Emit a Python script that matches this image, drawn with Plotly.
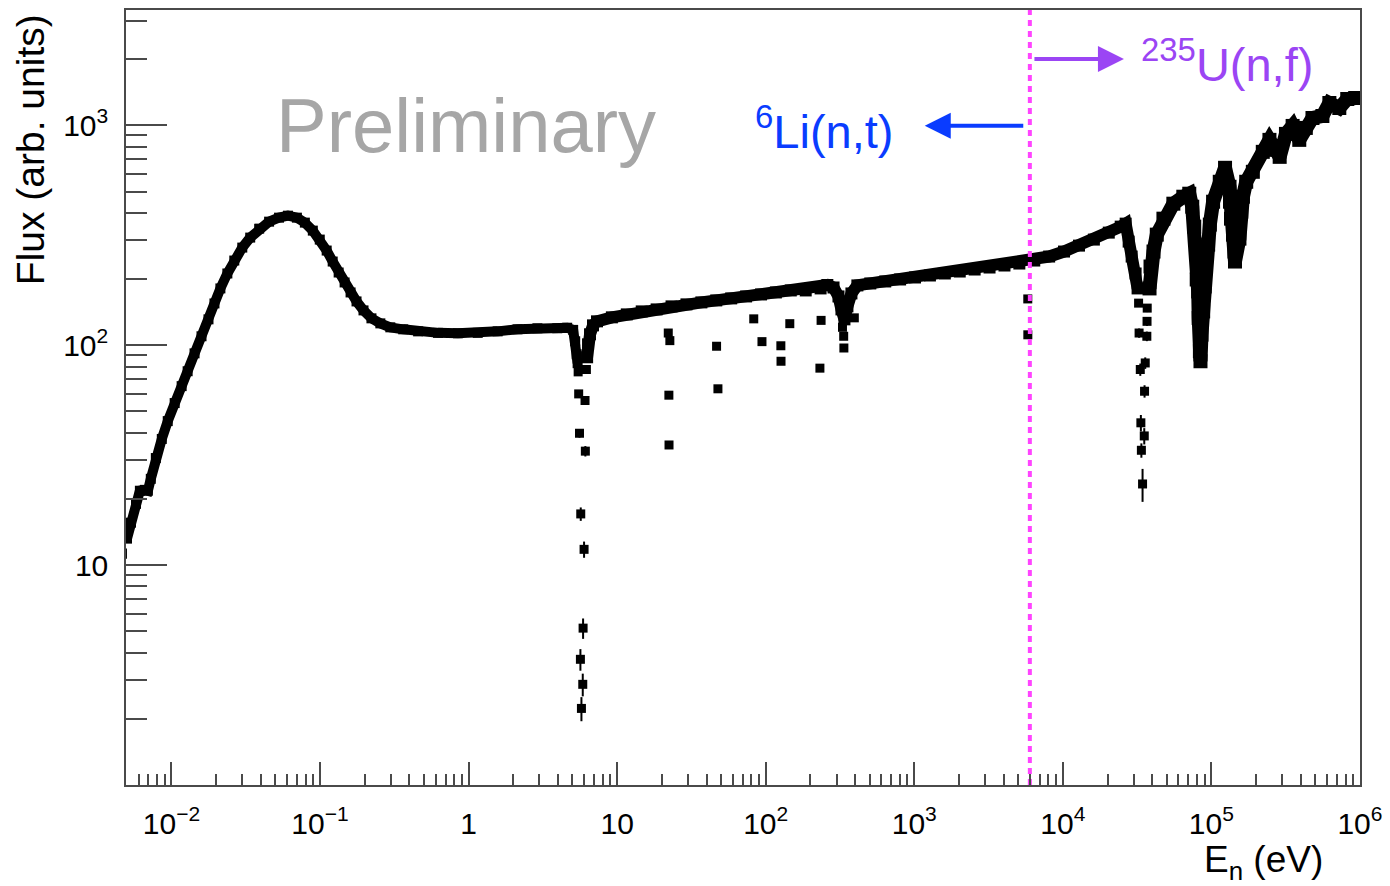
import plotly.graph_objects as go

# ---------------- data: neutron flux vs energy ----------------
# thermal peak up to the left flank of the 5.9 eV dip
thermal_energy = [
    0.00502, 0.00534, 0.00577, 0.00613, 0.00662, 0.00694, 0.00726, 0.00785, 0.00861, 0.00944,
    0.01051, 0.01171, 0.01285, 0.01430, 0.01593, 0.01775, 0.01947, 0.02135, 0.02378, 0.02648,
    0.02997, 0.03389, 0.03894, 0.04542, 0.05298, 0.06084, 0.06990, 0.07907, 0.08944, 0.09961,
    0.1109, 0.1217, 0.1335, 0.1464, 0.1606, 0.1761, 0.1962, 0.2219, 0.2548, 0.2973,
    0.3632, 0.4575, 0.6226, 0.8474, 1.153, 1.569, 2.135, 2.906, 3.954, 4.612,
    5.058, 5.22, 5.34, 5.42,
]
thermal_flux = [
    13.2, 15.6, 19.0, 21.8, 22.0, 21.8, 24.7, 30.7, 37.5, 45.2,
    54.6, 65.2, 76.2, 91.9, 109.9, 131.2, 155.0, 181.4, 212.1, 242.9,
    278.2, 308.9, 339.3, 365.0, 380.6, 388.6, 380.6, 361.3, 332.3, 302.5,
    269.7, 240.4, 214.3, 193.1, 173.9, 158.3, 144.1, 132.6, 125.8, 120.7,
    118.2, 115.7, 113.9, 113.4, 113.9, 115.7, 118.2, 119.5, 119.5, 120.2,
    117.5, 104.3, 91.0, 82.9,
]

# epithermal region up to the left flank of the 30 keV dip
epithermal_energy = [
    6.28, 6.37, 6.57, 6.88, 7.32, 9.22, 11.62, 14.64, 18.45, 23.24,
    29.29, 36.90, 46.48, 58.56, 73.80, 92.97, 117.1, 147.5, 185.9, 234.2,
    260.0, 286.2, 309.0, 323.6, 338.9, 354.9, 377.6, 414.1, 505.9, 637.7,
    803.1, 1012, 1275, 1606, 2024, 2550, 3212, 4047, 5098, 6424,
    8093, 10190, 12850, 16190, 20390, 24530, 26490, 27750, 29070, 30900,
    31870,
]
epithermal_flux = [
    88.2, 101.0, 112.2, 123.2, 128.5, 134.0, 138.2, 142.6, 145.6, 150.3,
    153.5, 156.7, 160.0, 163.4, 166.8, 170.3, 173.9, 177.6, 177.6, 181.4,
    188.0, 183.2, 166.8, 145.6, 131.2, 150.3, 172.1, 187.2, 191.1, 195.1,
    199.2, 203.4, 207.7, 212.1, 216.5, 221.1, 225.8, 230.6, 235.4, 242.9,
    253.3, 266.9, 284.0, 302.5, 325.4, 346.5, 357.5, 296.2, 253.3, 212.1,
    181.4,
]

# fast region: right flank of the 30 keV dip to 1 MeV
fast_energy = [
    38350, 38940, 40780, 42910, 47570, 55480, 64730, 70990, 74340, 76670,
    79080, 79680, 81540, 82180, 83710, 84480, 85790, 88070, 90120, 90540,
    90810, 95130, 97650, 102700, 113900, 123600, 132500, 133500, 135600, 139800,
    143100, 144200, 154500, 155700, 158900, 163100, 171600, 190200, 221900, 246000,
    272300, 288300, 317700, 352300, 390600, 432300, 479300, 559000, 622800, 726400,
    821600, 929500,
]
fast_flux = [
    181.4, 228.2, 266.9, 318.6, 376.6, 440.6, 474.0, 489.1, 426.9, 346.5,
    266.9, 199.2, 175.8, 133.0, 93.9, 84.6, 111.8, 142.6, 185.2, 224.1,
    253.3, 287.1, 353.9, 449.8, 554.2, 641.6, 526.1, 449.8, 376.6, 318.6,
    266.9, 240.4, 305.6, 353.9, 405.3, 474.0, 554.2, 615.3, 758.3, 859.6,
    774.3, 719.6, 915.1, 994.7, 859.6, 974.1, 1081, 1104, 1265, 1200,
    1319, 1333,
]

# single bins (resonance dips and scattered low bins) with statistical errors
point_energy = [
    0.00494,
    5.465, 5.51, 5.58, 5.66, 5.69, 5.75, 5.87, 5.90, 5.99, 6.08, 6.11, 6.21,
    22.09, 22.64, 22.30, 22.35, 46.7, 47.7, 83.1, 94.4, 126.5, 126.8,
    145.3, 236.0, 231.7, 328.7, 335.0, 336.0, 395.0, 5810, 5815,
    32370, 32620, 33230, 33530, 33800, 34420, 35340, 35500, 35880, 36780, 36890, 37000,
]
point_flux = [
    11.3,
    75.7, 60.1, 39.8, 3.73, 17.1, 2.23, 2.87, 5.17, 11.8, 56.1, 33.0, 77.6,
    113.7, 105.0, 59.3, 35.2, 99.0, 63.4, 131.9, 103.9, 99.5, 84.6,
    125.4, 129.8, 78.7, 120.7, 109.9, 97.2, 133.3, 162.5, 111.6,
    155.5, 113.7, 77.6, 44.4, 33.3, 23.4, 38.7, 61.8, 83.1, 109.9, 128.5, 147.6,
]
point_error = [
    0.6,
    2.5, 2.2, 1.8, 0.42, 1.2, 0.28, 0.34, 0.55, 1.0, 2.2, 1.8, 2.6,
    2.0, 2.0, 1.8, 1.4, 2.0, 1.8, 2.2, 2.0, 2.0, 2.0,
    2.2, 2.2, 2.0, 2.5, 2.5, 2.5, 2.5, 3.0, 3.0,
    6.0, 5.5, 5.0, 3.8, 2.5, 4.0, 3.3, 4.0, 5.0, 5.5, 6.0, 6.0,
]

# detector hand-over energy between 6Li(n,t) and 235U(n,f)
switch_energy = 6000

# axis ticks
x_decades = [1e-2, 1e-1, 1, 10, 1e2, 1e3, 1e4, 1e5, 1e6]
x_decade_labels = ["10<sup>\u22122</sup>", "10<sup>\u22121</sup>", "1", "10", "10<sup>2</sup>",
                   "10<sup>3</sup>", "10<sup>4</sup>", "10<sup>5</sup>", "10<sup>6</sup>"]
y_decades = [10, 100, 1000]
y_decade_labels = ["10", "10<sup>2</sup>", "10<sup>3</sup>"]

x_minor = [k * 10.0 ** d for d in range(-3, 6) for k in range(2, 10)]
x_minor = [v for v in x_minor if 5.5e-3 < v < 1e6]
y_minor = [k * 10.0 ** d for d in range(0, 4) for k in range(2, 10)]
y_minor = [v for v in y_minor if v < 3300]

FONT = "Liberation Sans, Arial, Helvetica, sans-serif"
AXIS_COLOR = "#4a4a4a"

fig = go.Figure()

# connected runs of bins, drawn as a thick band of square markers
for energy, flux, width in [(thermal_energy, thermal_flux, 10),
                            (epithermal_energy, epithermal_flux, 12),
                            (fast_energy, fast_flux, 14)]:
    fig.add_trace(go.Scatter(
        x=energy, y=flux, mode="lines+markers",
        line=dict(color="black", width=width),
        marker=dict(symbol="square", size=width, color="black"),
        hoverinfo="skip", showlegend=False,
    ))

fig.add_trace(go.Scatter(
    x=point_energy, y=point_flux, mode="markers", cliponaxis=False,
    marker=dict(symbol="square", size=9, color="black"),
    error_y=dict(type="data", array=point_error, color="black", thickness=2, width=0),
    hoverinfo="skip", showlegend=False,
))

fig.add_trace(go.Scatter(
    x=[switch_energy, switch_energy], y=[1, 10 ** 3.525], mode="lines",
    line=dict(color="#ff44ff", width=4, dash="6px,5px"),
    hoverinfo="skip", showlegend=False,
))

fig.update_xaxes(
    type="log", range=[-2.306, 6.0005],
    showgrid=False, zeroline=False,
    showline=True, linecolor=AXIS_COLOR, linewidth=1.5, mirror=True,
    ticks="inside", ticklen=23, tickwidth=1.5, tickcolor=AXIS_COLOR,
    tickmode="array", tickvals=x_decades, ticktext=x_decade_labels,
    ticklabelstandoff=11,
    tickfont=dict(family=FONT, size=30, color="black"),
    minor=dict(tickmode="array", tickvals=x_minor, ticks="inside", ticklen=11,
               tickwidth=1.5, tickcolor=AXIS_COLOR, showgrid=False),
)
fig.update_yaxes(
    type="log", range=[0, 3.525],
    showgrid=False, zeroline=False,
    showline=True, linecolor=AXIS_COLOR, linewidth=1.5, mirror=True,
    ticks="inside", ticklen=41, tickwidth=1.5, tickcolor=AXIS_COLOR,
    tickmode="array", tickvals=y_decades, ticktext=y_decade_labels,
    ticklabelstandoff=10,
    tickfont=dict(family=FONT, size=30, color="black"),
    minor=dict(tickmode="array", tickvals=y_minor, ticks="inside", ticklen=21,
               tickwidth=1.5, tickcolor=AXIS_COLOR, showgrid=False),
)

annotations = [
    dict(text="Preliminary", xref="paper", yref="paper", x=0.1203, y=0.851,
         xanchor="left", yanchor="middle", showarrow=False,
         font=dict(family=FONT, size=76, color="#a6a6a6")),
    dict(text="<sup>6</sup>Li(n,t)", xref="paper", yref="paper", x=0.6231, y=0.848,
         xanchor="right", yanchor="middle", showarrow=False,
         font=dict(family=FONT, size=47, color="#0a3cff")),
    dict(text="<sup>235</sup>U(n,f)", xref="paper", yref="paper", x=0.8208, y=0.934,
         xanchor="left", yanchor="middle", showarrow=False,
         font=dict(family=FONT, size=47, color="#9b45f4")),
    # arrows pointing away from the hand-over energy
    dict(text="", xref="paper", yref="paper", x=0.6473, y=0.8507,
         ax=100, ay=0, axref="pixel", ayref="pixel", showarrow=True,
         arrowhead=2, arrowsize=1.3, arrowwidth=4, arrowcolor="#0a3cff", standoff=0),
    dict(text="", xref="paper", yref="paper", x=0.8087, y=0.9369,
         ax=-91, ay=0, axref="pixel", ayref="pixel", showarrow=True,
         arrowhead=2, arrowsize=1.3, arrowwidth=4, arrowcolor="#9b45f4", standoff=0),
    # axis titles
    dict(text="Flux (arb. units)", xref="paper", yref="paper", x=-0.0775, y=0.997,
         xanchor="center", yanchor="top", textangle=-90, showarrow=False,
         font=dict(family=FONT, size=39, color="black")),
    dict(text="E<sub>n</sub> (eV)", xref="paper", yref="paper", x=0.9717, y=-0.0997,
         xanchor="right", yanchor="middle", showarrow=False,
         font=dict(family=FONT, size=37, color="black")),
]

fig.update_layout(
    width=1390, height=886,
    margin=dict(l=126, r=25, t=8, b=101),
    paper_bgcolor="white", plot_bgcolor="white",
    font=dict(family=FONT, color="black"),
    annotations=annotations,
)

fig.write_html("out.html")
